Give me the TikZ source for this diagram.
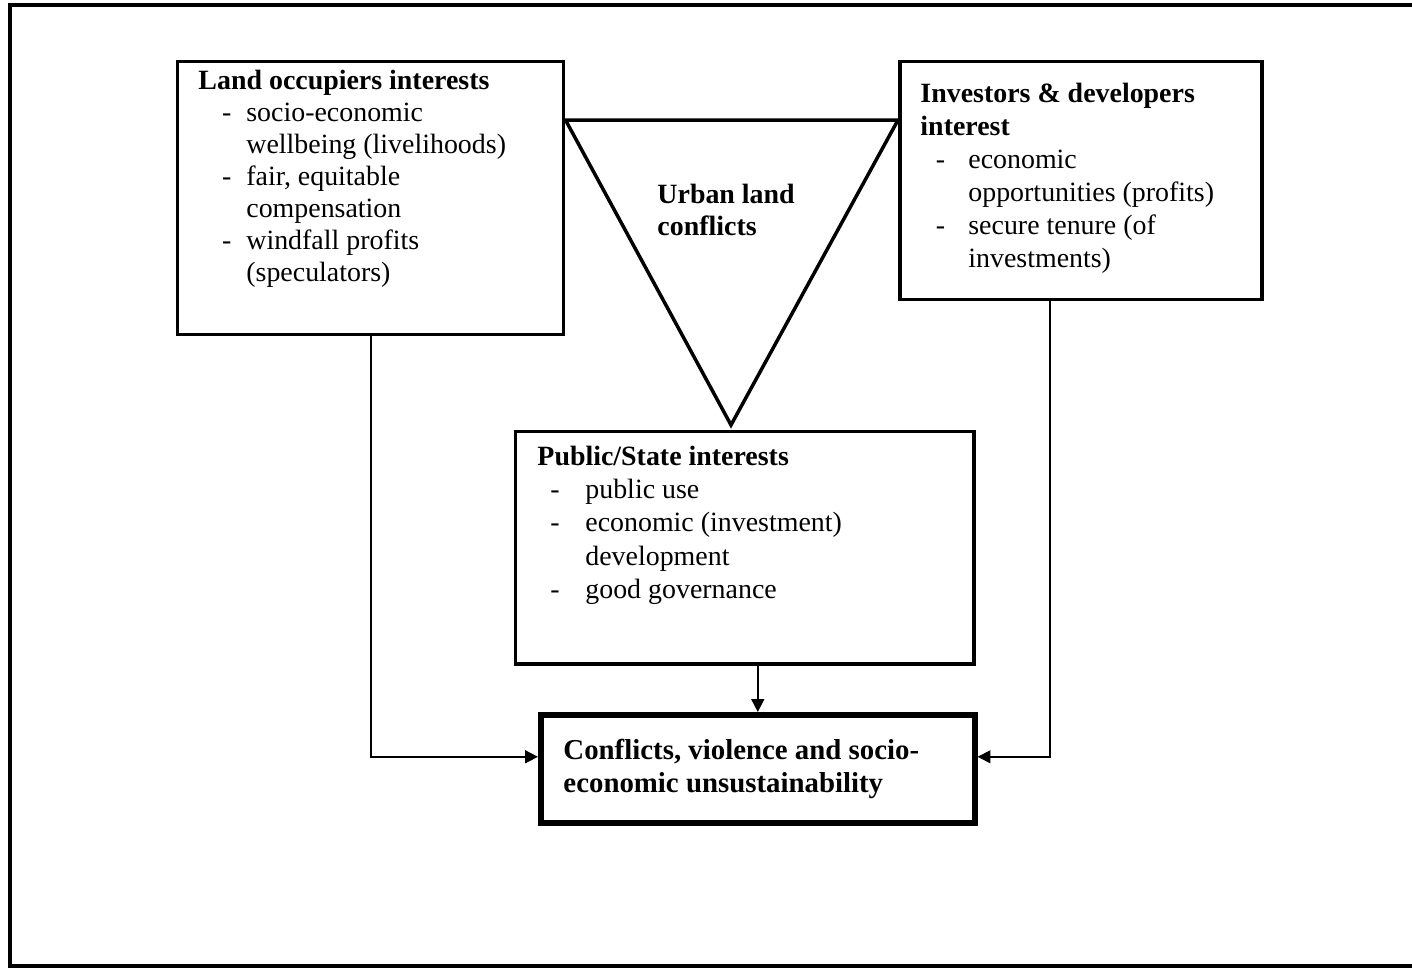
\documentclass[tikz,border=0pt]{standalone}
\usepackage{fontspec}
\setmainfont{Liberation Serif}
\usetikzlibrary{arrows.meta,calc}
\newcommand{\pxu}{0.43pt}

\begin{document}
\begin{tikzpicture}[x=0.43pt,y=-0.43pt]
    \tikzstyle{every node}=[font=\fontsize{12}{14}\selectfont, inner sep=0pt]
    \tikzstyle{box}=[draw, line width=1.5pt, anchor=north west]
    \tikzstyle{lst}=[anchor=base west]
    \tikzstyle{link}=[line width=0.7pt, -{Triangle[length=5.5pt,width=5.5pt]}]
    \useasboundingbox (0,0) rectangle (1412,968);

    % outer frame, its right side runs off the page
    \draw [line width=1.6pt] (1460,5) -- (10,5) -- (10,966) -- (1460,966);

    % the three interest groups
    \node (land) [box, minimum width=386*\pxu, minimum height=273*\pxu] at (176,60) {};
    \node (inv) [box, minimum width=362*\pxu, minimum height=238*\pxu] at (898,60) {};
    \node (public) [box, minimum width=458*\pxu, minimum height=232*\pxu] at (514,430) {};
    \node (result) [box, line width=2.4pt, minimum width=434*\pxu, minimum height=108*\pxu] at (538,712) {};

    % conflict triangle between the boxes
    \path (land.north east) ++(0,60) coordinate (tl);
    \path (inv.north west) ++(0,60) coordinate (tr);
    \coordinate (tip) at (731,425);
    \draw [line width=1.5pt, line join=miter] (tl) -- (tr) -- (tip) -- cycle;

    \node (landtxt) [lst, font=\fontsize{12}{13.8}\selectfont] at (198,89) {\begin{tabular}[t]{@{\hspace{10.2pt}}p{10.4pt}@{}l@{}}
        \multicolumn{2}{@{}l@{}}{\textbf{Land occupiers interests}}\\
        - & socio-economic\\
          & wellbeing (livelihoods)\\
        - & fair, equitable\\
          & compensation\\
        - & windfall profits\\
          & (speculators)
        \end{tabular}};
    \node (invtxt) [lst, font=\fontsize{12}{14.2}\selectfont] at (920,102) {\begin{tabular}[t]{@{\hspace{6.6pt}}p{14pt}@{}l@{}}
        \multicolumn{2}{@{}l@{}}{\textbf{Investors \& developers}}\\
        \multicolumn{2}{@{}l@{}}{\textbf{interest}}\\
        - & economic\\
          & opportunities (profits)\\
        - & secure tenure (of\\
          & investments)
        \end{tabular}};
    \node (urban) [lst] at (657,203) {\begin{tabular}[t]{@{}l@{}}
        \textbf{Urban land}\\
        \textbf{conflicts}
        \end{tabular}};
    \node (pubtxt) [lst, font=\fontsize{12}{14.4}\selectfont] at (537,465) {\begin{tabular}[t]{@{\hspace{5.6pt}}p{15pt}@{}l@{}}
        \multicolumn{2}{@{}l@{}}{\textbf{Public/State interests}}\\
        - & public use\\
        - & economic (investment)\\
          & development\\
        - & good governance
        \end{tabular}};
    \node (restxt) [lst, font=\fontsize{12.4}{14.6}\selectfont] at (563,759) {\begin{tabular}[t]{@{}l@{}}
        \textbf{Conflicts, violence and socio-}\\
        \textbf{economic unsustainability}
        \end{tabular}};

    % connectors to the outcome
    \draw [link] (land.south) |- ($(result.west)+(0,-12)$);
    \draw [link] ($(inv.south)+(-31,0)$) |- ($(result.east)+(0,-12)$);
    \draw [link] (public.south -| result.north) -- (result.north);
\end{tikzpicture}
\end{document}
